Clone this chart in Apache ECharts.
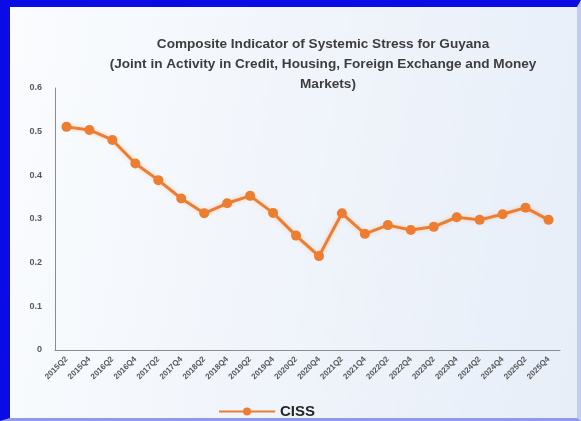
<!DOCTYPE html>
<html>
<head>
<meta charset="utf-8">
<script src="https://cdn.jsdelivr.net/npm/echarts@6/dist/echarts.min.js"></script>
<style>
  html, body { margin: 0; padding: 0; width: 581px; height: 421px; overflow: hidden; background: #ffffff; }
  #frame {
    position: absolute; left: 0; top: 0; width: 581px; height: 421px; box-sizing: border-box;
    border-left: 10px solid #0b0be6; border-top: 7px solid #0b0be6;
    border-right: 4px solid #c3cbf2; border-bottom: 3px solid #8f9bea;
    background: linear-gradient(100deg, #fafcfe 0%, #f1f5fb 45%, #e7eef8 100%);
  }
  #chart { position: absolute; left: 0; top: 0; width: 581px; height: 421px; }
</style>
</head>
<body>
<div id="frame"></div>
<div id="chart"></div>
<script>
// Half-yearly observation periods
const periods = [
  '2015Q2', '2015Q4', '2016Q2', '2016Q4', '2017Q2', '2017Q4',
  '2018Q2', '2018Q4', '2019Q2', '2019Q4', '2020Q2', '2020Q4',
  '2021Q2', '2021Q4', '2022Q2', '2022Q4', '2023Q2', '2023Q4',
  '2024Q2', '2024Q4', '2025Q2', '2025Q4'
];

// Composite Indicator of Systemic Stress
const cissValues = [
  0.511, 0.504, 0.481, 0.427, 0.389, 0.347,
  0.313, 0.336, 0.353, 0.314, 0.262, 0.215,
  0.313, 0.266, 0.286, 0.275, 0.282, 0.304,
  0.298, 0.311, 0.326, 0.298
];

const yTicks = [0, 0.1, 0.2, 0.3, 0.4, 0.5, 0.6];

const titleLines = [
  'Composite Indicator of Systemic Stress for Guyana',
  '(Joint in Activity in Credit, Housing, Foreign Exchange and Money',
  'Markets)'
];

const orange = '#ED7D31';
const fontFamily = '"Liberation Sans", Arial, sans-serif';

const chart = echarts.init(document.getElementById('chart'), null, { renderer: 'canvas' });

const titleStyle = { fontFamily, fontSize: 13.6, fontWeight: 'bold', color: '#3d3d3d' };

chart.setOption({
  backgroundColor: 'transparent',
  animation: false,
  title: [
    { text: titleLines[0], left: 318, top: 32, textAlign: 'center', textStyle: titleStyle },
    { text: titleLines[1], left: 318, top: 52, textAlign: 'center', textStyle: titleStyle },
    { text: titleLines[2], left: 323, top: 72, textAlign: 'center', textStyle: titleStyle }
  ],
  grid: { left: 55, right: 21, top: 88, bottom: 71, containLabel: false },
  xAxis: {
    type: 'category',
    data: periods,
    boundaryGap: true,
    axisLine: { show: true, lineStyle: { color: '#8c8c8c', width: 1 } },
    axisTick: { show: false },
    axisLabel: {
      interval: 0,
      rotate: 45,
      margin: 8,
      fontFamily,
      fontSize: 8,
      fontWeight: 'bold',
      color: '#555555'
    }
  },
  yAxis: {
    type: 'value',
    min: yTicks[0],
    max: yTicks[yTicks.length - 1],
    interval: 0.1,
    splitLine: { show: false },
    axisLine: { show: true, lineStyle: { color: '#8c8c8c', width: 1 } },
    axisTick: { show: false },
    axisLabel: {
      margin: 13,
      fontFamily,
      fontSize: 9,
      fontWeight: 'bold',
      color: '#595959',
      formatter: v => (Math.round(v * 10) / 10).toString()
    }
  },
  legend: {
    data: ['CISS'],
    left: 213,
    top: 399,
    itemWidth: 56,
    itemHeight: 10,
    itemGap: 4,
    textStyle: { fontFamily, fontSize: 15, fontWeight: 'bold', color: '#262626' }
  },
  series: [{
    name: 'CISS',
    type: 'line',
    data: cissValues,
    symbol: 'circle',
    symbolSize: 10,
    lineStyle: { color: orange, width: 3, shadowColor: 'rgba(237,125,49,0.35)', shadowBlur: 4 },
    itemStyle: { color: orange, borderColor: orange, borderWidth: 0 }
  }]
});
</script>
</body>
</html>
